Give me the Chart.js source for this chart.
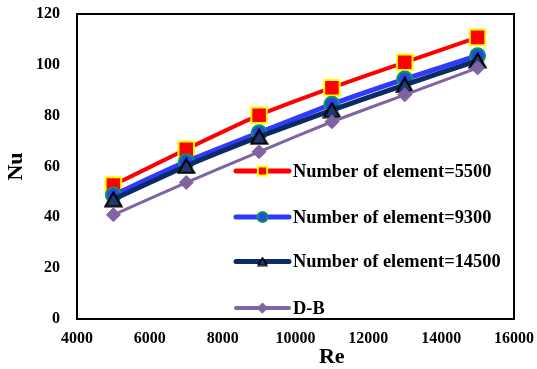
<!DOCTYPE html>
<html>
<head>
<meta charset="utf-8">
<script src="https://cdn.jsdelivr.net/npm/chart.js@4/dist/chart.umd.min.js"></script>
<style>
  html, body { margin: 0; padding: 0; background: #fff; }
  #wrap { width: 537px; height: 369px; }
</style>
</head>
<body>
<div id="wrap"><canvas id="c" width="537" height="369"></canvas></div>
<script>
// Reynolds numbers (x values)
const reValues = [5000, 7000, 9000, 11000, 13000, 15000];

// Nusselt number for each mesh size and the Dittus-Boelter correlation
const nuMesh5500  = [52.7, 66.8, 80.2, 91.0, 101.0, 110.8];
const nuMesh9300  = [48.8, 61.9, 73.3, 84.5, 94.4, 103.6];
const nuMesh14500 = [47.1, 60.2, 71.7, 82.2, 92.1, 101.7];
const nuDB        = [41.0, 53.7, 65.8, 77.6, 88.2, 98.8];

const seriesLabels = [
  'Number of element=5500',
  'Number of element=9300',
  'Number of element=14500',
  'D-B'
];

const xTicks = [4000, 6000, 8000, 10000, 12000, 14000, 16000];
const yTicks = [0, 20, 40, 60, 80, 100, 120];

const FONT = '"Liberation Serif", "Times New Roman", serif';

function pts(ys) { return reValues.map((x, i) => ({ x: x, y: ys[i] })); }

// triangle marker centred on its bounding box
function triangleImage(w, h, fill, edge, lw) {
  const c = document.createElement('canvas');
  c.width = w; c.height = h;
  const g = c.getContext('2d');
  const p = lw / 2 + 0.5;
  g.beginPath();
  g.moveTo(w / 2, p);
  g.lineTo(w - p, h - p);
  g.lineTo(p, h - p);
  g.closePath();
  g.fillStyle = fill;
  g.fill();
  g.lineWidth = lw;
  g.strokeStyle = edge;
  g.lineJoin = 'miter';
  g.stroke();
  return c;
}

const triBig = triangleImage(19, 17, '#1F3A6E', '#000000', 2);
const triSmall = triangleImage(11, 10, '#1F3A6E', '#000000', 1.6);

const styles = [
  { line: '#FF0000', width: 4, point: 'rect',    radius: 11,  fill: '#FF0000', edge: '#FFFF00', edgeW: 2,   legPoint: 'rect',    legR: 6.5, legW: 5 },
  { line: '#2E3BFF', width: 5, point: 'circle',  radius: 7.5, fill: '#2E45E8', edge: '#00A050', edgeW: 2,   legPoint: 'circle',  legR: 5,   legW: 5 },
  { line: '#0B2A66', width: 5, point: triBig,    radius: 9,   fill: '#1F3A6E', edge: '#000000', edgeW: 1.5, legPoint: triSmall,  legR: 6,   legW: 5 },
  { line: '#8064A2', width: 3, point: 'rectRot', radius: 7,   fill: '#8064A2', edge: '#8064A2', edgeW: 1,   legPoint: 'rectRot', legR: 5,   legW: 4 }
];
const seriesData = [nuMesh5500, nuMesh9300, nuMesh14500, nuDB];

const datasets = seriesData.map((d, i) => ({
  label: seriesLabels[i],
  data: pts(d),
  borderColor: styles[i].line,
  borderWidth: styles[i].width,
  pointStyle: styles[i].point,
  pointRadius: styles[i].radius,
  pointHoverRadius: styles[i].radius,
  pointBackgroundColor: styles[i].fill,
  pointBorderColor: styles[i].edge,
  pointBorderWidth: styles[i].edgeW,
  tension: 0.15,
  order: 4 - i
}));

// frame around the plot area plus the in-plot legend and the x title
const framePlugin = {
  id: 'frameAndLegend',
  afterDatasetsDraw(chart) {
    const { ctx, chartArea: a } = chart;
    ctx.save();
    ctx.strokeStyle = '#000';
    ctx.lineWidth = 2;
    ctx.strokeRect(a.left, a.top, a.right - a.left, a.bottom - a.top);

    const rowsFromBottom = [148, 102, 57.5, 11];
    ctx.font = 'bold 18.4px ' + FONT;
    ctx.textBaseline = 'middle';
    ctx.textAlign = 'left';
    styles.forEach((s, i) => {
      const y = a.bottom - rowsFromBottom[i];
      const x0 = a.right - 278, x1 = a.right - 225;
      ctx.strokeStyle = s.line;
      ctx.lineWidth = s.legW;
      ctx.lineCap = 'round';
      ctx.beginPath();
      ctx.moveTo(x0, y);
      ctx.lineTo(x1, y);
      ctx.stroke();
      ctx.fillStyle = s.fill;
      ctx.strokeStyle = s.edge;
      ctx.lineWidth = s.edgeW;
      Chart.helpers.drawPoint(ctx, { pointStyle: s.legPoint, radius: s.legR, borderWidth: s.edgeW }, (x0 + x1) / 2, y);
      ctx.fillStyle = '#000';
      ctx.fillText(seriesLabels[i], a.right - 221, y + 1);
    });

    // x axis title
    ctx.font = 'bold 22px ' + FONT;
    ctx.textAlign = 'center';
    ctx.textBaseline = 'middle';
    ctx.fillStyle = '#000';
    ctx.fillText('Re', a.left + (a.right - a.left) * 0.583, 357);
    ctx.restore();
  }
};

new Chart(document.getElementById('c'), {
  type: 'line',
  data: { datasets },
  options: {
    responsive: false,
    animation: false,
    devicePixelRatio: 1,
    layout: { padding: { left: 0, right: 23, top: 14, bottom: 0 } },
    plugins: { legend: { display: false }, tooltip: { enabled: false } },
    scales: {
      x: {
        type: 'linear',
        min: 4000, max: 16000,
        afterBuildTicks(scale) { scale.ticks = xTicks.map(v => ({ value: v })); },
        afterFit(scale) { scale.height = 50; scale.paddingLeft = 0; scale.paddingRight = 0; },
        grid: { display: false, drawTicks: false },
        border: { display: false },
        ticks: { padding: 10, color: '#000', font: { family: FONT, size: 16, weight: 'bold' }, callback: v => String(v) }
      },
      y: {
        type: 'linear',
        min: 0, max: 120,
        afterBuildTicks(scale) { scale.ticks = yTicks.map(v => ({ value: v })); },
        afterFit(scale) { scale.width = 77; scale.paddingTop = 0; scale.paddingBottom = 0; },
        grid: { display: false, drawTicks: false },
        border: { display: false },
        ticks: { padding: 17, color: '#000', font: { family: FONT, size: 16, weight: 'bold' }, callback: v => String(v) },
        title: { display: true, text: 'Nu', color: '#000', padding: { top: 3, bottom: 0 }, font: { family: FONT, size: 22, weight: 'bold' } }
      }
    }
  },
  plugins: [framePlugin]
});
</script>
</body>
</html>
